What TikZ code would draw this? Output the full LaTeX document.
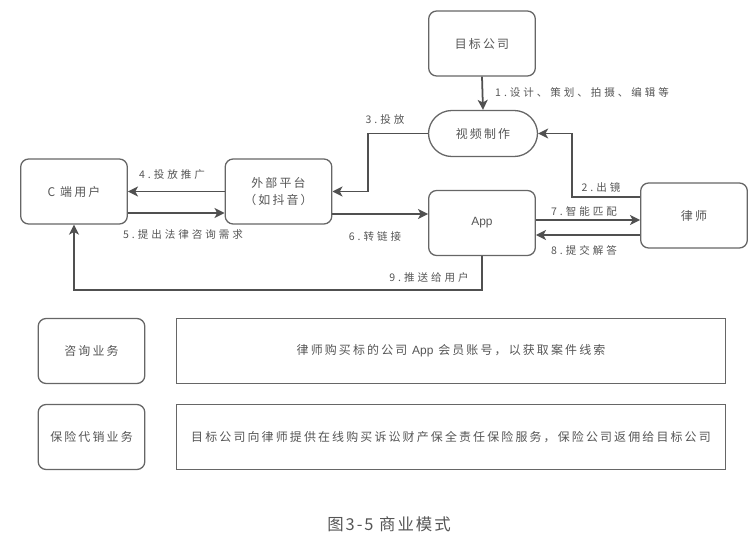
\documentclass[tikz,border=0pt]{standalone}
\usepackage{fontspec}
\setmainfont{Noto Sans CJK SC}[LetterSpace=18]
\newfontfamily\lblfont{Noto Sans CJK SC}[LetterSpace=28]
\newfontfamily\capfont{Noto Sans CJK SC}[LetterSpace=12]
\newfontfamily\appfont{Liberation Sans}
\usetikzlibrary{arrows.meta,calc}

\definecolor{linegray}{HTML}{505050}
\definecolor{boxgray}{HTML}{666666}
\definecolor{txtgray}{HTML}{555555}

\begin{document}
\begin{tikzpicture}[x=0.03cm,y=-0.03cm,
  box/.style={draw=boxgray, line width=1.1pt, rounded corners=0.24cm, minimum width=3.2cm, minimum height=1.95cm, text=txtgray, font=\fontsize{10.2}{15}\selectfont, align=center},
  pill/.style={box, rounded corners=0.7cm, minimum width=3.27cm, minimum height=1.38cm},
  wide/.style={draw=boxgray, line width=0.9pt, minimum width=16.47cm, minimum height=1.95cm, text=txtgray, font=\fontsize{10.2}{15}\selectfont},
  arr/.style={draw=linegray, line width=1.5pt, -{Stealth[length=0.3cm, width=0.3cm, inset=0.08cm]}},
  lbl/.style={text=txtgray, inner sep=0pt, font=\lblfont\fontsize{9}{10}\selectfont}]
\useasboundingbox (0,0) rectangle (756,537);

% top part
\node[box] (target) at (482,43.5) {目标公司};
\node[pill] (video) at (483,133.5) {视频制作};
\node[box] (user) at (74,191.5) {C 端用户};
\node[box] (plat) at (278.5,191.5) {外部平台\\（如抖音）};
\node[box] (app) at (482,223) {\appfont App};
\node[box] (lawyer) at (694,215.5) {律师};

\draw[arr] (target.south) -- (video.north);
\draw[arr] ([shift={(0,-18.5)}]lawyer.west) -| ([shift={(34,0)}]video.east) -- (video.east);
\draw[arr] (video.west) -- ++(-60,0) |- (plat.east);
\draw[arr] (plat.west) -- (user.east);
\draw[arr] ([shift={(0,21.5)}]user.east) -- ([shift={(0,21.5)}]plat.west);
\draw[arr] ([shift={(0,22.5)}]plat.east) -- ([shift={(0,-9)}]app.west);
\draw[arr] ([shift={(0,-3)}]app.east) -- ([shift={(0,4.5)}]lawyer.west);
\draw[arr] ([shift={(0,19.5)}]lawyer.west) -- ([shift={(0,12)}]app.east);
\draw[arr] (app.south) -- ++(0,34) -| (user.south);

\node[lbl, anchor=west] (l1) at (495,92) {1.设计、策划、拍摄、编辑等};
\node[lbl] (l2) at (601,187) {2.出镜};
\node[lbl] (l3) at (385,119) {3.投放};
\node[lbl] (l4) at (172,175) {4.投放推广};
\node[lbl] (l5) at (183,235) {5.提出法律咨询需求};
\node[lbl] (l6) at (375,236) {6.转链接};
\node[lbl] (l7) at (584,211) {7.智能匹配};
\node[lbl] (l8) at (584,250) {8.提交解答};
\node[lbl] (l9) at (429,277) {9.推送给用户};

% bottom part
\node[box] (consult) at (91.5,351) {咨询业务};
\node[box] (insure) at (91.5,437) {保险代销业务};
\node[wide] (consulttxt) at (451,351) {律师购买标的公司 {\appfont App} 会员账号，以获取案件线索};
\node[wide] (insuretxt) at (451,437) {目标公司向律师提供在线购买诉讼财产保全责任保险服务，保险公司返佣给目标公司};

\node[text=txtgray, font=\capfont\fontsize{14}{16}\selectfont] (caption) at (389,524) {图3-5 商业模式};
\end{tikzpicture}
\end{document}
